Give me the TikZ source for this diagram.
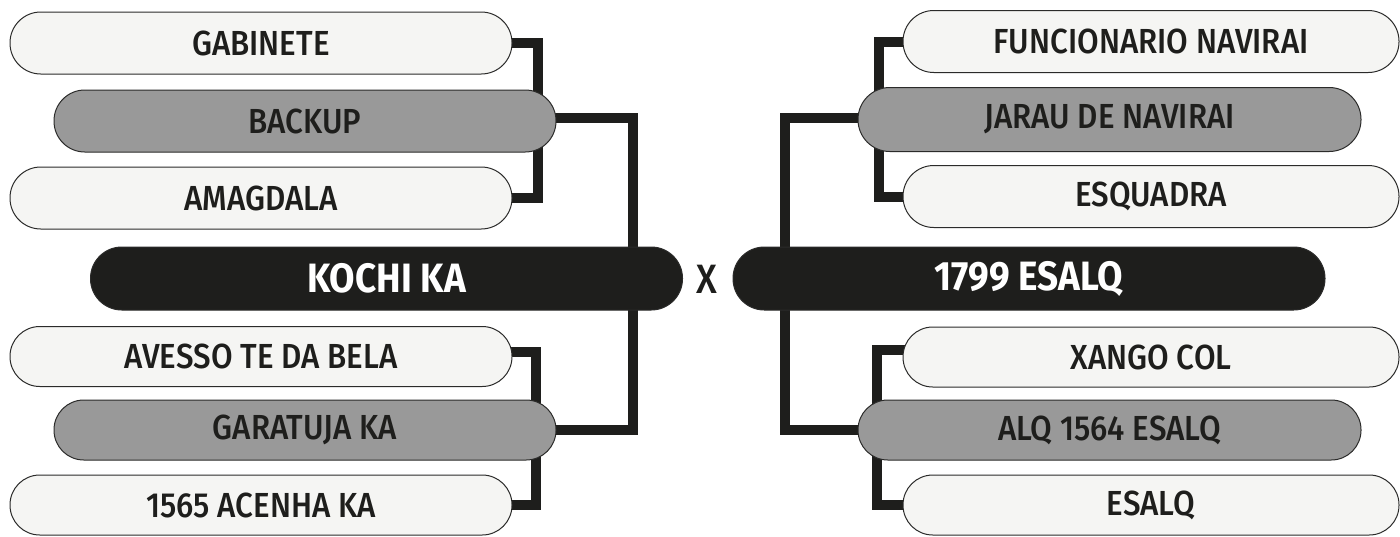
\documentclass[tikz,border=0pt]{standalone}
\usepackage{fontspec}
\setmainfont{Fira Sans Medium}[BoldFont={Fira Sans Bold}, FakeStretch=0.9]
\usetikzlibrary{calc,backgrounds}
\definecolor{boxlight}{HTML}{F5F5F3}
\definecolor{boxgray}{HTML}{999999}
\definecolor{boxdark}{HTML}{1E1E1C}
\definecolor{edge}{HTML}{2B2B2A}
\tikzset{
  pill/.style={draw=edge, line width=0.5pt, rectangle, inner sep=0pt,
    minimum height=#1*0.5pt, rounded corners=#1*0.25pt-0.1pt,
    font=\fontsize{17.4}{17}\selectfont, text=boxdark},
  lightpill/.style={pill=62, fill=boxlight, minimum width=251pt},
  lightpilllow/.style={pill=60, fill=boxlight, minimum width=251pt},
  graypill/.style={pill=62, fill=boxgray, minimum width=251pt},
  graypilllow/.style={pill=60, fill=boxgray, minimum width=251pt},
  rlightpill/.style={pill=62, fill=boxlight, minimum width=248pt},
  rlightpilllow/.style={pill=60, fill=boxlight, minimum width=248pt},
  rgraypill/.style={pill=64, fill=boxgray, minimum width=251.5pt},
  rgraypilllow/.style={pill=60, fill=boxgray, minimum width=251.5pt},
  teampill/.style={pill=63, fill=boxdark, minimum width=296pt, text=white,
    font=\fontsize{20.5}{20}\selectfont\bfseries},
  link/.style={draw=boxdark, line width=5pt, line join=miter, line cap=rect},
}
\begin{document}
\begin{tikzpicture}[x=0.5pt,y=-0.5pt]
\useasboundingbox (0,0) rectangle (1400,536);
% coordinates of connector verticals
\coordinate (vl) at (538,0);
\coordinate (vll) at (536,0);
\coordinate (kl) at (633,0);
\coordinate (vr) at (879,0);
\coordinate (vrr) at (877,0);
\coordinate (kr) at (785,0);
% nodes
\node[lightpill] (gab) at (261,43) {GABINETE};
\node[graypill] (bak) at (305,121) {BACKUP};
\node[lightpill] (ama) at (261,198) {AMAGDALA};
\node[teampill] (koc) at (386.5,278.5) {KOCHI KA};
\node[lightpilllow] (ave) at (261,356.5) {AVESSO TE DA BELA};
\node[graypilllow] (gar) at (305,430) {GARATUJA KA};
\node[lightpilllow] (ace) at (261,505) {1565 ACENHA KA};
\node[rlightpill] (fun) at (1151,41.5) {FUNCIONARIO NAVIRAI};
\node[rgraypill] (jar) at (1109.5,119.5) {JARAU DE NAVIRAI};
\node[rlightpill] (esq) at (1151,196.5) {ESQUADRA};
\node[teampill] (esa) at (1029,278.5) {1799 ESALQ};
\node[rlightpilllow] (xan) at (1151,357) {XANGO COL};
\node[rgraypilllow] (alq) at (1109.5,430) {ALQ 1564 ESALQ};
\node[rlightpilllow] (esl) at (1151,505) {ESALQ};
\node[font=\fontsize{20.5}{20}\selectfont, text=boxdark] (vs) at (707,279) {X};
% connectors drawn behind
\begin{scope}[on background layer]
\draw[link] (gab.east) -- (vl |- gab.east) -- (vl |- ama.east) -- (ama.east);
\draw[link] ($(bak.east)+(0,-3)$) -| (kl |- koc.north);
\draw[link] ($(ave.east)+(0,-5)$) -- ($(vll |- ave.east)+(0,-5)$) -- (vll |- ace.east) -- (ace.east);
\draw[link] (gar.east) -| (kl |- koc.south);
\draw[link] (fun.west) -- (vr |- fun.west) -- (vr |- esq.west) -- (esq.west);
\draw[link] ($(jar.west)+(0,-1.5)$) -| (kr |- esa.north);
\draw[link] ($(xan.west)+(0,-7)$) -- ($(vrr |- xan.west)+(0,-7)$) -- (vrr |- esl.west) -- (esl.west);
\draw[link] (alq.west) -| (kr |- esa.south);
\end{scope}
\end{tikzpicture}
\end{document}
